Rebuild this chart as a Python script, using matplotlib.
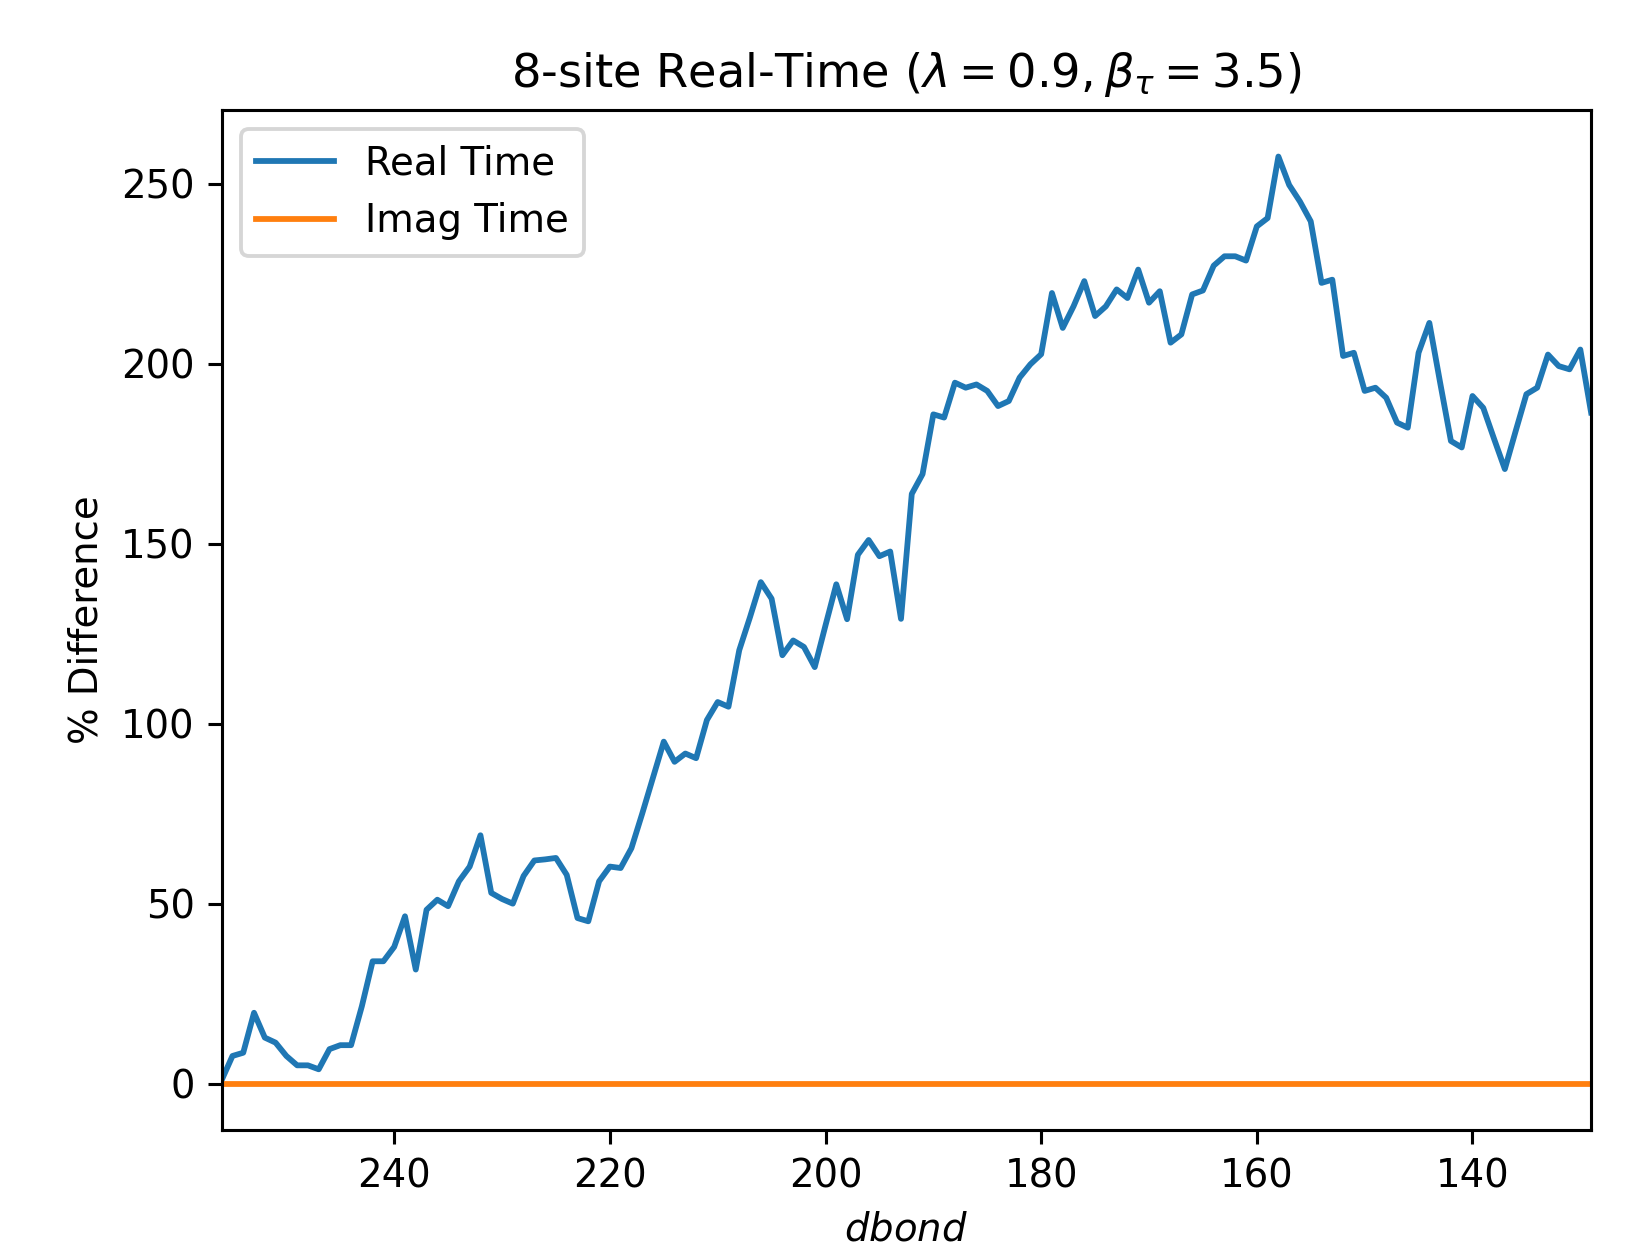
import numpy as np
import matplotlib
matplotlib.use("Agg")
import matplotlib.pyplot as plt

dbond = list(range(256, 128, -1))
real_time = [
    1, 7.7, 8.6, 19.7, 12.8, 11.4, 7.7, 5.1, 5.1, 4.0,
    9.6, 10.7, 10.7, 21.5, 34, 34, 38, 46.5, 31.7, 48.3,
    51.1, 49.3, 56.2, 60.3, 69, 53, 51.3, 50, 57.7, 62,
    62.3, 62.7, 58, 46, 45.1, 56.2, 60.3, 59.9, 65.4, 75,
    85, 95, 89.4, 91.7, 90.4, 101, 106, 104.7, 120.4, 129.6,
    139.3, 134.7, 119, 123.1, 121.3, 115.7, 127.3, 138.7, 129, 146.9,
    151, 146.5, 147.8, 129.1, 163.8, 169.3, 185.9, 185, 194.7, 193.3,
    194.2, 192.4, 188.2, 189.6, 196.1, 199.8, 202.6, 219.6, 209.9, 215.9,
    222.9, 213.2, 215.9, 220.6, 218.2, 226.1, 216.9, 220.1, 205.8, 208.1,
    219.2, 220.3, 227.2, 229.8, 229.8, 228.6, 238.1, 240.4, 257.5, 249.6,
    245, 239.5, 222.4, 223.3, 202.1, 203, 192.4, 193.3, 190.5, 183.6,
    182.2, 203, 211.3, 194.7, 178.5, 176.7, 191, 187.7, 179.1, 170.7,
    181.2, 191.5, 193.3, 202.5, 199.3, 198.4, 203.9, 186.4,
]
imag_time = [0.0] * len(dbond)

DPI = 278
fig = plt.figure(figsize=(1642 / DPI, 1252 / DPI), dpi=DPI)
ax = fig.add_axes([0.135, 0.0974, 0.834, 0.8146])

ax.plot(dbond, real_time, label="Real Time")
ax.plot(dbond, imag_time, label="Imag Time")
ax.set_xlim(dbond[0], dbond[-1])
ax.set_title(r"8-site Real-Time ($\lambda = 0.9, \beta_\tau = 3.5$)")
ax.set_xlabel(r"$dbond$")
ax.set_ylabel("% Difference")
ax.legend(loc="upper left")

fig.savefig("out.png", dpi=DPI)
